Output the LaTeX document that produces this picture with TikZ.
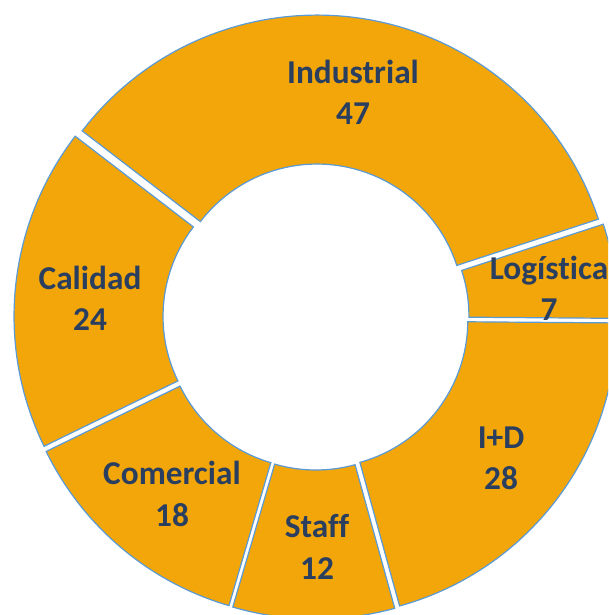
\documentclass[tikz,border=0pt]{standalone}
\usepackage{fontspec}
\setmainfont[Ligatures={NoCommon}]{Carlito}
\usetikzlibrary{calc}
\definecolor{slicefill}{HTML}{F2A60A}
\definecolor{sliceline}{HTML}{5B9BD5}
\definecolor{labeltext}{HTML}{2A3F5F}
\tikzset{
  slice/.style={fill=slicefill, draw=sliceline, line width=0.9pt, line join=miter},
  lbl/.style={text=labeltext, font=\fontsize{25}{31}\selectfont\bfseries, align=center, inner sep=0pt}
}
\newcommand{\donutslice}[2]{%
  \pgfmathsetmacro{\mid}{(#1+#2)/2}%
  \path[slice] ($(C)+(\mid:6)+(#1:147)$) -- ($(C)+(\mid:6)+(#1:296)$)
     arc[start angle=#1, end angle=#2, radius=296]
     -- ($(C)+(\mid:6)+(#2:147)$)
     arc[start angle=#2, end angle=#1, radius=147] -- cycle;%
}
\begin{document}
\begin{tikzpicture}[x=0.75pt,y=0.75pt]
\useasboundingbox (0,0) rectangle (608,-615);
\clip (0,0) rectangle (608,-615);
\coordinate (C) at (316,-317);
\donutslice{142.5}{18.09}
\donutslice{18.09}{-0.44}
\donutslice{-0.44}{-74.56}
\donutslice{-74.56}{-106.32}
\donutslice{-106.32}{-153.97}
\donutslice{-153.97}{-217.5}
\node[lbl] (industrial) at (353,-92) {Industrial\\47};
\node[lbl] (logistica) at (549,-288) {Logística\\7};
\node[lbl] (id) at (501,-458) {I+D\\28};
\node[lbl] (staff) at (317,-547) {Staff\\12};
\node[lbl] (comercial) at (172,-494) {Comercial\\18};
\node[lbl] (calidad) at (90,-298) {Calidad\\24};
\end{tikzpicture}
\end{document}
